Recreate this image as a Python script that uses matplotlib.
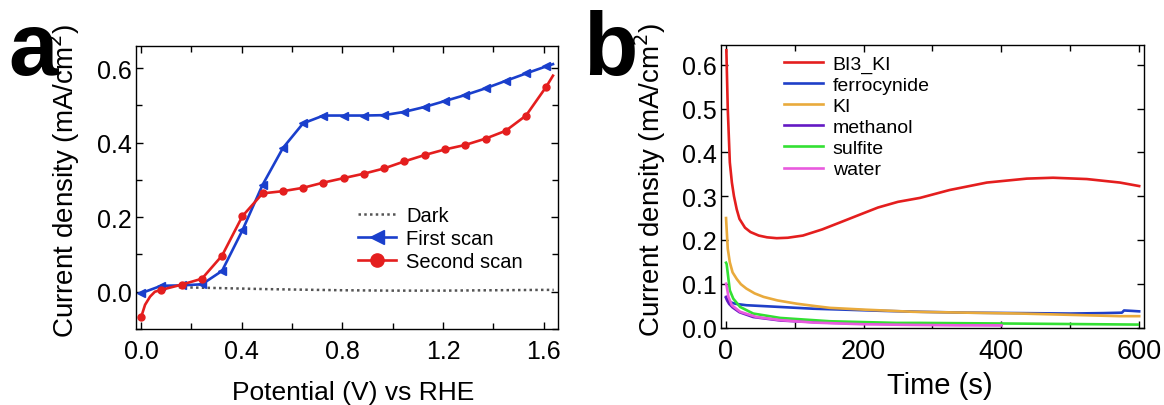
import numpy as np
import matplotlib
matplotlib.use("Agg")
import matplotlib.pyplot as plt

plt.rcParams['font.family'] = ['Liberation Sans', 'DejaVu Sans']

# ---- panel a: linear sweeps ----
scan1_v = [0.0, 0.08, 0.161, 0.242, 0.322, 0.403, 0.483, 0.564, 0.644, 0.725, 0.805,
           0.886, 0.966, 1.047, 1.127, 1.208, 1.288, 1.369, 1.449, 1.530, 1.610, 1.637]
scan1_j = [-0.004, 0.016, 0.017, 0.020, 0.056, 0.165, 0.287, 0.386, 0.452, 0.473, 0.473,
           0.473, 0.474, 0.483, 0.496, 0.512, 0.528, 0.546, 0.566, 0.586, 0.605, 0.611]
scan1_marks = list(range(21))

scan2_v = [0.0, 0.016, 0.036, 0.055, 0.08, 0.161, 0.242, 0.322, 0.403, 0.483, 0.564, 0.644,
           0.725, 0.805, 0.886, 0.966, 1.047, 1.127, 1.208, 1.288, 1.369, 1.449, 1.530,
           1.610, 1.637]
scan2_j = [-0.069, -0.035, -0.013, 0.0, 0.005, 0.019, 0.035, 0.097, 0.203, 0.264, 0.270,
           0.279, 0.293, 0.305, 0.317, 0.331, 0.350, 0.367, 0.382, 0.394, 0.411, 0.432,
           0.473, 0.550, 0.580]
scan2_marks = [0] + list(range(4, 24))

dark_v = [0.15, 0.3, 0.5, 0.8, 1.0, 1.2, 1.4, 1.6, 1.64]
dark_j = [0.012, 0.010, 0.007, 0.004, 0.003, 0.003, 0.004, 0.005, 0.005]

# ---- panel b: chronoamperometry ----
bi3_t = [1, 3, 6, 9, 12, 16, 20, 28, 36, 48, 60, 74, 90, 112, 140, 166, 195, 221, 250,
         282, 325, 379, 437, 475, 524, 572, 600]
bi3_j = [0.633, 0.50, 0.377, 0.331, 0.30, 0.27, 0.248, 0.228, 0.218, 0.210, 0.206, 0.204,
         0.205, 0.21, 0.224, 0.24, 0.258, 0.274, 0.287, 0.296, 0.314, 0.331, 0.340, 0.342,
         0.339, 0.331, 0.323]

ferro_t = [0.5, 1.4, 6, 15, 30, 79, 127, 170, 230, 282, 350, 427, 500, 548, 575, 578, 590, 600]
ferro_j = [0.068, 0.066, 0.058, 0.054, 0.051, 0.047, 0.043, 0.041, 0.038, 0.036, 0.034,
           0.033, 0.032, 0.033, 0.034, 0.039, 0.038, 0.037]

ki_t = [0.5, 1.4, 3, 6, 10, 16, 22, 30, 42, 55, 75, 103, 130, 151, 200, 272, 350, 427, 500, 572, 600]
ki_j = [0.25, 0.225, 0.18, 0.149, 0.126, 0.111, 0.099, 0.089, 0.078, 0.070, 0.062, 0.0545,
        0.049, 0.045, 0.041, 0.036, 0.034, 0.032, 0.029, 0.026, 0.026]

meth_t = [0.5, 2, 5, 10, 20, 40, 80, 150, 250, 400]
meth_j = [0.07, 0.062, 0.054, 0.046, 0.035, 0.024, 0.016, 0.011, 0.008, 0.006]

sulf_t = [0.5, 1.4, 4, 6, 11, 21, 40, 79, 151, 248, 282, 427, 598]
sulf_j = [0.148, 0.145, 0.111, 0.085, 0.066, 0.047, 0.032, 0.022, 0.0144, 0.0106, 0.0106,
          0.009, 0.0068]

water_t = [0.5, 1.4, 4, 9, 21, 45, 79, 127, 200, 272, 340, 400]
water_j = [0.10, 0.095, 0.070, 0.051, 0.036, 0.024, 0.017, 0.0114, 0.0075, 0.006, 0.005, 0.005]

W, H = 1164, 406
fig = plt.figure(figsize=(W / 100, H / 100), dpi=100)
ax1 = fig.add_axes([136 / W, 1 - 330 / H, 422 / W, 283.5 / H])
ax2 = fig.add_axes([721 / W, 1 - 329 / H, 423 / W, 283 / H])

red = '#e41e1e'
blue = '#1a3fcc'

ax1.plot(dark_v, dark_j, ls=(0, (1, 1.3)), color='#555555', lw=1.8, label='Dark')
ax1.plot(scan1_v, scan1_j, color=blue, lw=1.9, marker='<', ms=5.5,
         markevery=scan1_marks, label='First scan')
ax1.plot(scan2_v, scan2_j, color=red, lw=1.9, marker='o', ms=5,
         markevery=scan2_marks, label='Second scan')
ax1.set_xlim(-0.02, 1.657)
ax1.set_ylim(-0.078, 0.661)
ax1.set_xticks([0.0, 0.4, 0.8, 1.2, 1.6])
ax1.set_xticks(np.arange(0.2, 1.65, 0.4), minor=True)
ax1.set_yticks([0.0, 0.2, 0.4, 0.6])
ax1.set_yticks([-0.1, 0.1, 0.3, 0.5], minor=True)
ax1.xaxis.set_major_formatter(matplotlib.ticker.FormatStrFormatter('%.1f'))
ax1.yaxis.set_major_formatter(matplotlib.ticker.FormatStrFormatter('%.1f'))
ax1.set_xlabel('Potential (V) vs RHE', fontsize=19)
ax1.xaxis.set_label_coords(0.514, -0.222)
ax1.xaxis.label.set_va('center')
ax1.legend(loc='upper left', bbox_to_anchor=(358 / W, 1 - 207 / H),
           bbox_transform=fig.transFigure, frameon=False, fontsize=14.5,
           handlelength=1.9, handletextpad=0.5, labelspacing=0.2,
           markerscale=1.9, borderaxespad=0, borderpad=0)

ax2.plot(bi3_t, bi3_j, color='#e41e1e', lw=1.9, label='BI3_KI')
ax2.plot(ferro_t, ferro_j, color='#1f3fc8', lw=1.9, label='ferrocynide')
ax2.plot(ki_t, ki_j, color='#e9aa3c', lw=1.9, label='KI')
ax2.plot(meth_t, meth_j, color='#6419c4', lw=1.9, label='methanol')
ax2.plot(sulf_t, sulf_j, color='#33e033', lw=1.9, label='sulfite')
ax2.plot(water_t, water_j, color='#e95ade', lw=1.9, label='water')
ax2.set_xlim(-6.8, 607)
ax2.set_ylim(-0.001, 0.645)
ax2.set_xticks([0, 200, 400, 600])
ax2.set_xticks([100, 300, 500], minor=True)
ax2.set_yticks([0.0, 0.1, 0.2, 0.3, 0.4, 0.5, 0.6])
ax2.yaxis.set_major_formatter(matplotlib.ticker.FormatStrFormatter('%.1f'))
ax2.set_xlabel('Time (s)', fontsize=21)
ax2.xaxis.set_label_coords(0.518, -0.20)
ax2.xaxis.label.set_va('center')
ax2.legend(loc='upper left', bbox_to_anchor=(784 / W, 1 - 56 / H),
           bbox_transform=fig.transFigure, frameon=False, fontsize=14,
           handlelength=2.0, handletextpad=0.5, labelspacing=0.18,
           borderaxespad=0, borderpad=0)

for ax, xs in [(ax1, 18), (ax2, 19.5)]:
    for s in ax.spines.values():
        s.set_linewidth(1.0)
    ax.tick_params(which='both', direction='in', top=True, right=True, width=1.0)
    ax.tick_params(which='major', length=5)
    ax.tick_params(which='minor', length=4)
    ax.tick_params(axis='y', labelsize=18, pad=3)
    ax.tick_params(axis='x', labelsize=xs, pad=7)

# y labels (clipped at the top as in the original)
ylab = 'Current density (mA/cm$^2$)'
fig.text(64 / W, 1 - 338 / H, ylab, rotation=90, ha='center', va='bottom', fontsize=20)
fig.text(650 / W, 1 - 337 / H, ylab, rotation=90, ha='center', va='bottom', fontsize=20)

fig.text(8 / W, 1 - 75 / H, 'a', fontsize=64, fontweight='bold', va='baseline')
fig.text(583 / W, 1 - 75 / H, 'b', fontsize=64, fontweight='bold', va='baseline')

fig.savefig('out.png', dpi=100)
